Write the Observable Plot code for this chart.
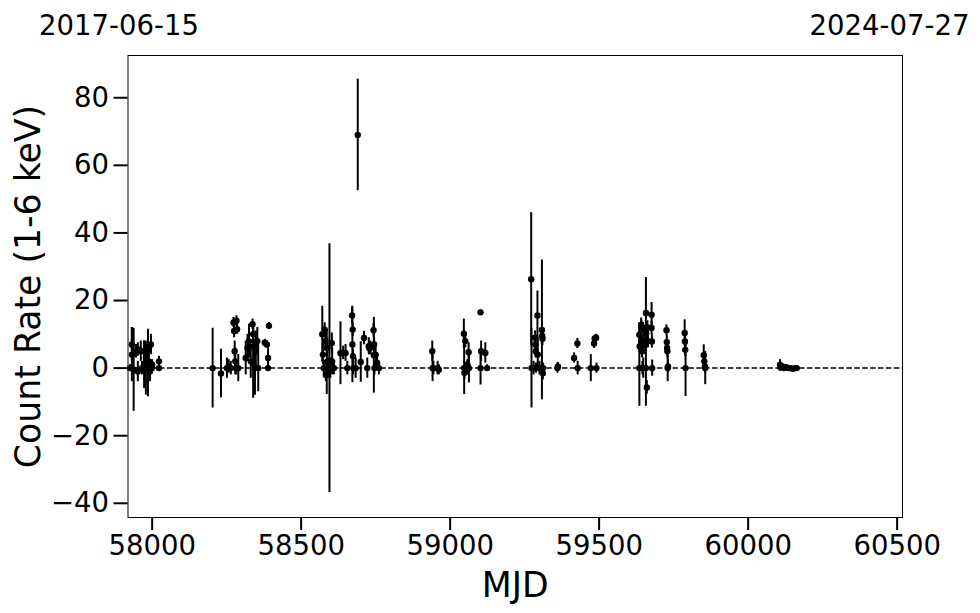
<!DOCTYPE html>
<html>
<head>
<meta charset="utf-8">
<script src="https://cdn.jsdelivr.net/npm/d3@7"></script>
<script src="https://cdn.jsdelivr.net/npm/@observablehq/plot@0.6"></script>
<style>
  html, body { margin: 0; padding: 0; background: white; }
</style>
</head>
<body>
<div id="chart"></div>
<script>
// MJD of each observation
const mjd = [
  57926, 57932, 57932, 57938, 57946, 57952, 57952, 57962, 57966, 57973, 57973, 57979, 57979, 57986, 57989, 57989, 57993, 57993, 57996, 57999, 58000, 58023, 58023,
  58203, 58231, 58251, 58257, 58264, 58273, 58275, 58277, 58279, 58281, 58283, 58285, 58289, 58314, 58320, 58325, 58331, 58337, 58339, 58341, 58339, 58345, 58348, 58353, 58356, 58378, 58385, 58389, 58389, 58392,
  58571, 58573, 58576, 58579, 58581, 58583, 58586, 58588, 58590, 58595, 58598, 58603, 58604, 58610, 58632, 58641, 58649, 58655, 58671, 58672, 58673, 58674, 58675, 58683, 58690, 58700, 58711, 58722, 58727, 58729, 58733, 58743, 58744, 58745, 58746, 58750, 58755, 58761,
  58940, 58941, 58944, 58958, 58962, 59046, 59047, 59048, 59051, 59057, 59058, 59062, 59063, 59102, 59102, 59104, 59118, 59124,
  59272, 59273, 59280, 59285, 59286, 59287, 59288, 59293, 59294, 59300, 59308, 59309, 59310, 59311, 59312,
  59360, 59362, 59416, 59427, 59428, 59472, 59483, 59485, 59490, 59491,
  59635, 59635, 59636, 59641, 59642, 59643, 59644, 59645, 59647, 59648, 59650, 59657, 59657, 59658, 59659, 59660, 59662, 59664, 59676, 59676, 59677, 59678, 59726, 59727, 59728, 59729, 59730, 59731, 59787, 59788, 59789, 59790, 59851, 59853, 59855, 59856,
  60107, 60109, 60115, 60120, 60128, 60135, 60142, 60150, 60158, 60163
];
// Count rate (1-6 keV)
const rate = [
  0, 7, 4, -0.5, 5, 5.5, -1, 5, 0, 5, 1, 0, 3, 1.5, 5.5, 2, 0, -1, 7, 0, 1, 2, 0,
  0, -1.6, 0, 0.5, 0, 13.5, 11, 5, 2, 0, 14, 11.5, 0, 3, 6, 8, 2, 13, 10, 6.5, 1.5, 0, 5, 8, 0, 7.5, 7, 3, 0, 12.5,
  10, 4, 0, 11.4, 8, -2, 1.8, 6, 0, 0, 0, 7.4, 2, 0, 4.4, 4.5, 4.5, 0, 15.6, 7, 11.4, 3.5, 0, 0, 69, 1.8, 8.9, 0, 6.5, 5.9, 6, 11.2, 3.8, 7, 0, 4, 1.5, 0,
  5, 0, 0, 0, -0.5, 10.2, 0, -1.4, 8, 0, 1, 4.7, 0, 16.5, 0, 5, 4.5, 0,
  26.3, 0, 0, 9, 7, 5, 0, 15.6, 4, 0, 11.3, 9.5, 8.7, -1.5, 0,
  0, 0.5, 3, 7.3, 0, 0, 7.3, 8.8, 9, 0,
  9.9, 0, 6.4, 12.8, 11.9, 8.4, 5, 0, 12, 0, 7, 16.3, 0, 10.4, 7.9, -5.7, 12, 8, 15.8, 11.9, 7.9, 0, 11.2, 7.7, 6, 5, 0, 0.5, 10.4, 7.9, 5.4, 0, 3.8, 2, 0.5, 0,
  1, 0.2, 0.5, 0, 0.3, 0, 0, -0.2, 0, 0
];
// 1-sigma error on the count rate
const err = [
  1, 5, 8, 12.3, 2, 2, 3, 3, 2, 3, 7, 8, 4, 10, 2, 2, 2, 3, 3, 1, 1.5, 1.5, 1,
  11.8, 7.2, 3, 2, 2, 1.5, 2, 3, 4, 2, 1.5, 1.5, 4, 5, 4, 5, 5, 1.5, 2, 2, 10.4, 8, 6, 4, 7, 1, 1, 3, 1, 1,
  8.3, 3, 2, 2, 3, 2, 9.6, 3, 3, 36.8, 3, 3, 4, 2, 9.3, 2, 2.5, 2, 2.5, 11.3, 2, 2, 2, 3, 16.5, 6, 2, 3, 2.5, 2, 2, 2, 11.2, 2, 2, 3, 2, 2,
  3, 4, 2, 2, 1.5, 4.3, 7.8, 2, 2, 2, 1.5, 2.8, 4.4, 0.7, 5, 3, 3, 1,
  19.7, 11.8, 2, 2, 2, 2, 1.5, 7.2, 5, 2, 20.7, 2, 2, 2, 1.5,
  1.5, 1.2, 1.5, 1.5, 2, 4, 1.5, 1, 1, 1.5,
  3.5, 11.3, 2, 2, 2, 2, 2, 2, 1.5, 3, 3, 10.5, 11.3, 2, 2, 2, 2, 2, 3.6, 2, 2, 2.4, 1.6, 2, 2, 2, 4, 2, 3.9, 2, 2, 8.4, 3.1, 2, 2, 4.9,
  1.5, 1, 0.8, 0.6, 0.5, 0.5, 0.4, 0.5, 0.4, 0.4
];
const xTicks = [58000, 58500, 59000, 59500, 60000, 60500];
const yTicks = [-40, -20, 0, 20, 40, 60, 80];
const dateLabels = ["2017-06-15", "2024-07-27"];

const data = mjd.map((m, i) => ({mjd: m, rate: rate[i], err: err[i]}));

const tickFont = 27.5;
const labelFont = 34.7;

const chart = Plot.plot({
  width: 980,
  height: 613,
  marginLeft: 127.5,
  marginRight: 78,
  marginTop: 55,
  marginBottom: 96,
  style: {fontFamily: "DejaVu Sans", fontSize: tickFont + "px", background: "white", color: "black"},
  x: {domain: [57919, 60518]},
  y: {domain: [-44.2, 92.5]},
  marks: [
    Plot.ruleY([0], {stroke: "black", strokeWidth: 1.5, strokeDasharray: "5.5,2.4"}),
    Plot.ruleX(data, {x: "mjd", y1: d => d.rate - d.err, y2: d => d.rate + d.err, stroke: "black", strokeWidth: 2}),
    Plot.dot(data, {x: "mjd", y: "rate", r: 3.2, fill: "black", stroke: "none"}),
    Plot.frame({stroke: "black", strokeWidth: 1}),
    Plot.axisX(xTicks, {tickSize: 13, tickPadding: 5, strokeWidth: 2, fontSize: tickFont, label: null, tickFormat: d => String(d)}),
    Plot.axisY(yTicks, {tickSize: 14, tickPadding: 5, strokeWidth: 2, fontSize: tickFont, label: null,
      tickFormat: d => d < 0 ? "\u2212" + Math.abs(d) : String(d)}),
    Plot.text(["MJD"], {text: d => d, frameAnchor: "bottom", dy: 79, lineAnchor: "bottom", fontSize: labelFont}),
    Plot.text(["Count Rate (1-6 keV)"], {text: d => d, frameAnchor: "left", textAnchor: "middle", lineAnchor: "middle", dx: -99, rotate: -90, fontSize: labelFont}),
    Plot.text([dateLabels[0]], {text: d => d, frameAnchor: "top-left", textAnchor: "middle", dx: -9, dy: -21, lineAnchor: "bottom", fontSize: tickFont}),
    Plot.text([dateLabels[1]], {text: d => d, frameAnchor: "top-right", textAnchor: "middle", dx: -13, dy: -21, lineAnchor: "bottom", fontSize: tickFont})
  ]
});
document.getElementById("chart").appendChild(chart);
</script>
</body>
</html>
